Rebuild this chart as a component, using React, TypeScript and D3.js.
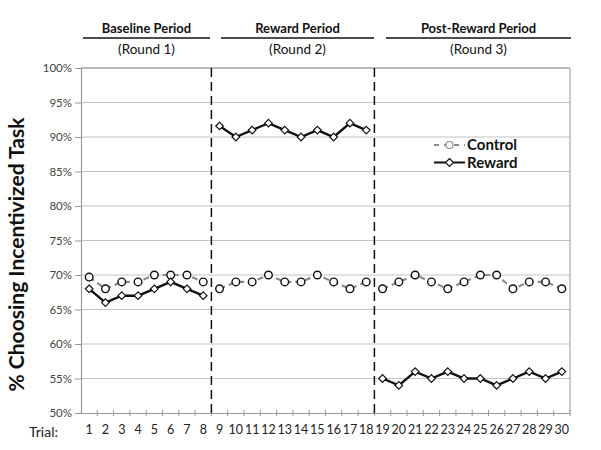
import { useEffect, useRef } from "react"
import * as d3 from "d3"

const trials = d3.range(1, 31)
const rounds = [
  { title: "Baseline Period", sub: "(Round 1)", first: 1, last: 8 },
  { title: "Reward Period", sub: "(Round 2)", first: 9, last: 18 },
  { title: "Post-Reward Period", sub: "(Round 3)", first: 19, last: 30 },
]
const controlValues = [
  69.7, 68, 69, 69, 70, 70, 70, 69,
  68, 69, 69, 70, 69, 69, 70, 69, 68, 69,
  68, 69, 70, 69, 68, 69, 70, 70, 68, 69, 69, 68,
]
const rewardValues = [
  68, 66, 67, 67, 68, 69, 68, 67,
  91.6, 90, 91, 92, 91, 90, 91, 90, 92, 91,
  55, 54, 56, 55, 56, 55, 55, 54, 55, 56, 55, 56,
]
const yTicks = [50, 55, 60, 65, 70, 75, 80, 85, 90, 95, 100]

const W = 601
const H = 450
const margin = { top: 68, right: 31, bottom: 37, left: 81 }
const FONT = "Lato, 'Open Sans', sans-serif"

export default function App() {
  const svgRef = useRef<SVGSVGElement>(null)

  useEffect(() => {
    if (!svgRef.current) return
    const svg = d3.select(svgRef.current)
    svg.selectAll("*").remove()

    const innerW = W - margin.left - margin.right
    const innerH = H - margin.top - margin.bottom

    const x = d3
      .scaleBand<number>()
      .domain(trials)
      .range([margin.left, margin.left + innerW])
    const cx = (t: number) => (x(t) || 0) + x.bandwidth() / 2
    const y = d3
      .scaleLinear()
      .domain([50, 100])
      .range([margin.top + innerH, margin.top])

    const bottom = margin.top + innerH
    const right = margin.left + innerW

    // Grid lines
    svg
      .append("g")
      .selectAll("line")
      .data(yTicks.slice(1))
      .enter()
      .append("line")
      .attr("x1", margin.left)
      .attr("x2", right)
      .attr("y1", (d) => y(d))
      .attr("y2", (d) => y(d))
      .attr("stroke", (d) => (d === 100 ? "#777" : "#c4c4c4"))
      .attr("stroke-width", 1.2)

    // Right border
    svg
      .append("line")
      .attr("x1", right)
      .attr("x2", right)
      .attr("y1", margin.top)
      .attr("y2", bottom)
      .attr("stroke", "#aaa")
      .attr("stroke-width", 1.2)

    // Left axis
    const yAxis = svg
      .append("g")
      .attr("transform", `translate(${margin.left},0)`)
      .call(
        d3
          .axisLeft(y)
          .tickValues(yTicks)
          .tickSize(6)
          .tickPadding(3)
          .tickFormat((d) => `${d}%`)
      )
    yAxis.select(".domain").attr("stroke", "#999").attr("stroke-width", 1.2)
    yAxis.selectAll("line").attr("stroke", "#999")
    yAxis
      .selectAll("text")
      .attr("fill", "#444")
      .attr("font-size", "11.5px")
      .attr("font-family", FONT)

    // Bottom axis
    const xAxis = svg
      .append("g")
      .attr("transform", `translate(0,${bottom})`)
      .call(d3.axisBottom(x).tickSize(0).tickPadding(12))
    xAxis.select(".domain").attr("stroke", "#999").attr("stroke-width", 1.2)
    xAxis
      .selectAll("text")
      .attr("fill", "#222")
      .attr("font-size", "12.5px")
      .attr("font-family", FONT)
    svg
      .append("g")
      .selectAll("line")
      .data(trials.slice(1).concat([31]))
      .enter()
      .append("line")
      .attr("x1", (d) => (d === 31 ? right : x(d) || 0))
      .attr("x2", (d) => (d === 31 ? right : x(d) || 0))
      .attr("y1", bottom - 3)
      .attr("y2", bottom + 3)
      .attr("stroke", "#999")

    svg
      .append("text")
      .attr("x", 58)
      .attr("y", bottom + 24)
      .attr("text-anchor", "end")
      .attr("font-size", "14px")
      .attr("font-family", FONT)
      .attr("fill", "#222")
      .text("Trial:")

    // Y label
    svg
      .append("text")
      .attr("transform", `translate(24,${margin.top + innerH / 2 + 14}) rotate(-90)`)
      .attr("text-anchor", "middle")
      .attr("font-size", "21px")
      .attr("font-weight", "bold")
      .attr("font-family", FONT)
      .attr("fill", "#111")
      .text("% Choosing Incentivized Task")

    // Round dividers
    rounds.slice(1).forEach((r) => {
      const xd = x(r.first) || 0
      svg
        .append("line")
        .attr("x1", xd)
        .attr("x2", xd)
        .attr("y1", margin.top)
        .attr("y2", bottom)
        .attr("stroke", "#111")
        .attr("stroke-width", 1.5)
        .attr("stroke-dasharray", "9,5")
    })

    // Round headers
    const headerLines = [
      [83, 210],
      [221, 374],
      [386, 571],
    ]
    rounds.forEach((r, i) => {
      const [a, b] = headerLines[i]
      const mid = (a + b) / 2
      svg
        .append("text")
        .attr("x", mid)
        .attr("y", 33)
        .attr("text-anchor", "middle")
        .attr("font-size", "13px")
        .attr("font-weight", "bold")
        .attr("font-family", FONT)
        .attr("fill", "#111")
        .text(r.title)
      svg
        .append("line")
        .attr("x1", a)
        .attr("x2", b)
        .attr("y1", 38)
        .attr("y2", 38)
        .attr("stroke", "#111")
        .attr("stroke-width", 1.5)
      svg
        .append("text")
        .attr("x", mid)
        .attr("y", 54)
        .attr("text-anchor", "middle")
        .attr("font-size", "13.5px")
        .attr("font-family", FONT)
        .attr("fill", "#111")
        .text(r.sub)
    })

    const diamond = (s: number) => `M0,${-s}L${s},0L0,${s}L${-s},0Z`

    // Series per round (lines are broken between rounds)
    rounds.forEach((r) => {
      const ts = trials.filter((t) => t >= r.first && t <= r.last)
      const ctrl = d3
        .line<number>()
        .x((t) => cx(t))
        .y((t) => y(controlValues[t - 1]))
      const rew = d3
        .line<number>()
        .x((t) => cx(t))
        .y((t) => y(rewardValues[t - 1]))

      svg
        .append("path")
        .attr("d", ctrl(ts))
        .attr("fill", "none")
        .attr("stroke", "#8c8c8c")
        .attr("stroke-width", 2.2)
        .attr("stroke-dasharray", "6,4")

      svg
        .append("path")
        .attr("d", rew(ts))
        .attr("fill", "none")
        .attr("stroke", "#111")
        .attr("stroke-width", 2.4)

      svg
        .append("g")
        .selectAll("circle")
        .data(ts)
        .enter()
        .append("circle")
        .attr("cx", (t) => cx(t))
        .attr("cy", (t) => y(controlValues[t - 1]))
        .attr("r", 3.8)
        .attr("fill", "#fff")
        .attr("stroke", "#111")
        .attr("stroke-width", 1.4)

      svg
        .append("g")
        .selectAll("path")
        .data(ts)
        .enter()
        .append("path")
        .attr("transform", (t) => `translate(${cx(t)},${y(rewardValues[t - 1])})`)
        .attr("d", diamond(3.8))
        .attr("fill", "#fff")
        .attr("stroke", "#111")
        .attr("stroke-width", 1.2)
    })

    // Legend
    const lg = svg.append("g").attr("transform", "translate(434,145)")
    lg.append("line")
      .attr("x1", 0)
      .attr("x2", 31)
      .attr("y1", 0)
      .attr("y2", 0)
      .attr("stroke", "#8c8c8c")
      .attr("stroke-width", 2)
      .attr("stroke-dasharray", "5,5")
    lg.append("circle")
      .attr("cx", 15.5)
      .attr("cy", 0)
      .attr("r", 3.5)
      .attr("fill", "#fff")
      .attr("stroke", "#8c8c8c")
      .attr("stroke-width", 1.2)
    lg.append("text")
      .attr("x", 33)
      .attr("y", 5)
      .attr("font-size", "15px")
      .attr("font-weight", "bold")
      .attr("font-family", FONT)
      .attr("fill", "#111")
      .text("Control")
    lg.append("line")
      .attr("x1", 0)
      .attr("x2", 31)
      .attr("y1", 17.5)
      .attr("y2", 17.5)
      .attr("stroke", "#111")
      .attr("stroke-width", 2)
    lg.append("path")
      .attr("transform", "translate(15.5,17.5)")
      .attr("d", diamond(4))
      .attr("fill", "#fff")
      .attr("stroke", "#111")
      .attr("stroke-width", 1.2)
    lg.append("text")
      .attr("x", 33)
      .attr("y", 23)
      .attr("font-size", "15px")
      .attr("font-weight", "bold")
      .attr("font-family", FONT)
      .attr("fill", "#111")
      .text("Reward")
  }, [])

  return (
    <div style={{ position: "absolute", left: 0, top: 0, background: "#fff" }}>
      <svg ref={svgRef} width={W} height={H} style={{ display: "block" }} />
    </div>
  )
}
